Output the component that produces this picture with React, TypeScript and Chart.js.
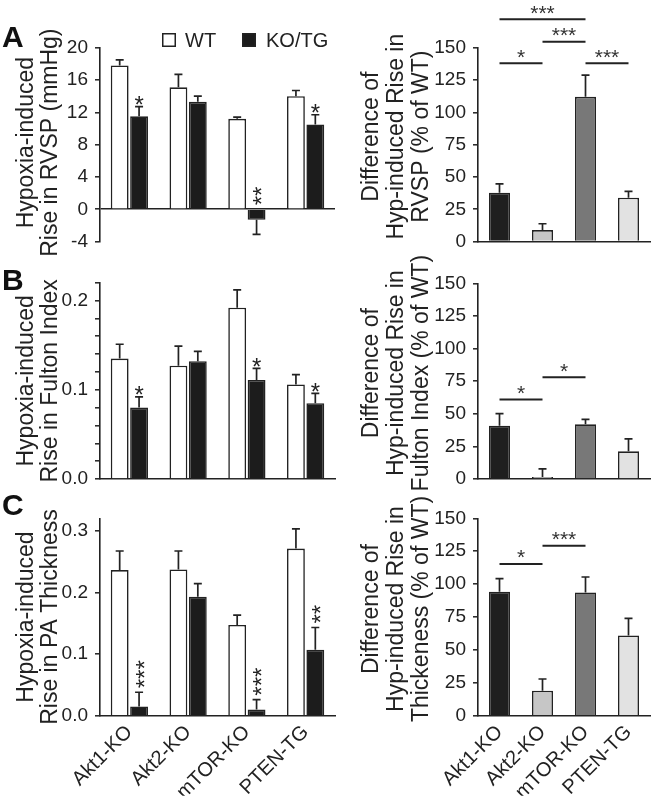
import React, { useEffect, useRef } from 'react';
import { Chart, registerables } from 'chart.js';

Chart.register(...registerables);

const FONT = '"Liberation Sans", Arial, Helvetica, sans-serif';
const INK = '#222222';
Chart.defaults.font.family = FONT;

// ---------- data ----------
const groups = ['Akt1-KO', 'Akt2-KO', 'mTOR-KO', 'PTEN-TG'];
const seriesLabels = ['WT', 'KO/TG'];

// A (left): hypoxia-induced rise in RVSP (mmHg)
const rvspWT = [17.8, 15.1, 11.2, 14.0];
const rvspWTSem = [0.7, 1.6, 0.2, 0.7];
const rvspKO = [11.5, 13.3, -1.3, 10.5];
const rvspKOSem = [1.2, 0.7, 1.8, 1.2];
const rvspKOStars = ['*', '', '**', '*'];

// B (left): hypoxia-induced rise in Fulton index
const fultonWT = [0.135, 0.127, 0.192, 0.106];
const fultonWTSem = [0.016, 0.022, 0.02, 0.011];
const fultonKO = [0.08, 0.132, 0.111, 0.085];
const fultonKOSem = [0.012, 0.011, 0.013, 0.011];
const fultonKOStars = ['*', '', '*', '*'];

// C (left): hypoxia-induced rise in PA thickness
const thickWT = [0.236, 0.237, 0.147, 0.271];
const thickWTSem = [0.031, 0.03, 0.016, 0.032];
const thickKO = [0.015, 0.193, 0.01, 0.107];
const thickKOSem = [0.023, 0.021, 0.016, 0.036];
const thickKOStars = ['***', '', '***', '**'];

// right panels: difference of hyp-induced rise (% of WT)
const rvspDiff = [37.8, 8.9, 112.0, 34.0];
const rvspDiffSem = [6.9, 4.9, 16.8, 4.8];
const rvspSigPairs = [[0, 2], [1, 2], [0, 1], [2, 3]];
const rvspSigLevels = [172, 154.6, 138, 138];
const rvspSigLabels = ['***', '***', '*', '***'];

const fultonDiff = [40.9, 1.5, 41.9, 21.2];
const fultonDiffSem = [9.2, 6.2, 3.8, 9.5];
const fultonSigPairs = [[0, 1], [1, 2]];
const fultonSigLevels = [61, 78];
const fultonSigLabels = ['*', '*'];

const thickDiff = [94.2, 19.0, 93.7, 61.0];
const thickDiffSem = [9.9, 8.9, 11.7, 13.0];
const thickSigPairs = [[0, 1], [1, 2]];
const thickSigLevels = [115.3, 129.2];
const thickSigLabels = ['*', '***'];

// axis ranges
const rvspAxis = { min: -4, max: 20, step: 4 };
const fultonAxis = { min: 0, max: 0.22, step: 0.02 };
const thickAxis = { min: 0, max: 0.32, step: 0.1 };
const diffAxis = { min: 0, max: 150, step: 25 };

const diffColors = ['#1f1f1f', '#c6c6c6', '#787878', '#e2e2e2'];

// ---------- plugin ----------
const annotPlugin = {
  id: 'annot',
  afterDatasetsDraw(chart: any, _a: any, opts: any) {
    const ctx = chart.ctx;
    const ys = chart.scales.y;
    const xs = chart.scales.x;
    chart.data.datasets.forEach((ds: any, i: number) => {
      const meta = chart.getDatasetMeta(i);
      meta.data.forEach((el: any, j: number) => {
        const v = ds.data[j];
        const e = ds.sem ? ds.sem[j] : 0;
        const end = v >= 0 ? v + e : v - e;
        const py = ys.getPixelForValue(end);
        const px = el.x;
        ctx.save();
        ctx.strokeStyle = INK;
        ctx.lineWidth = 1.7;
        ctx.beginPath();
        ctx.moveTo(px, el.y);
        ctx.lineTo(px, py);
        ctx.moveTo(px - 4, py);
        ctx.lineTo(px + 4, py);
        ctx.stroke();
        const s = ds.stars ? ds.stars[j] : '';
        if (s) {
          const anchor = ys.getPixelForValue(Math.max(0, end));
          const fs = 24;
          ctx.fillStyle = INK;
          ctx.font = `${fs}px ${FONT}`;
          ctx.textBaseline = 'alphabetic';
          if (s.length === 1) {
            ctx.textAlign = 'center';
            ctx.fillText(s, px, anchor - 4 + 0.43 * fs);
          } else {
            ctx.translate(px, anchor - 4);
            ctx.rotate(-Math.PI / 2);
            ctx.textAlign = 'left';
            ctx.fillText(s, 0, 0.58 * fs);
          }
        }
        ctx.restore();
      });
    });
    if (opts.sig) {
      const { pairs, levels, labels } = opts.sig;
      pairs.forEach((pr: number[], k: number) => {
        const x1 = xs.getPixelForValue(pr[0]);
        const x2 = xs.getPixelForValue(pr[1]);
        const py = ys.getPixelForValue(levels[k]);
        ctx.save();
        ctx.strokeStyle = INK;
        ctx.lineWidth = 2;
        ctx.beginPath();
        ctx.moveTo(x1, py);
        ctx.lineTo(x2, py);
        ctx.stroke();
        ctx.fillStyle = '#333';
        ctx.font = `21px ${FONT}`;
        ctx.textAlign = 'center';
        ctx.textBaseline = 'alphabetic';
        ctx.fillText(labels[k], (x1 + x2) / 2, py + 0.5);
        ctx.restore();
      });
    }
  },
  afterDraw(chart: any, _a: any, opts: any) {
    const ctx = chart.ctx;
    const ca = chart.chartArea;
    if (opts.title) {
      const cy = (ca.top + ca.bottom) / 2 + opts.title.dy;
      opts.title.lines.forEach((ln: string, k: number) => {
        ctx.save();
        ctx.translate(opts.title.xs[k], cy);
        ctx.rotate(-Math.PI / 2);
        ctx.fillStyle = INK;
        ctx.font = `23px ${FONT}`;
        ctx.textAlign = 'center';
        ctx.textBaseline = 'middle';
        ctx.fillText(ln, 0, 0);
        ctx.restore();
      });
    }
    if (opts.letter) {
      ctx.save();
      ctx.fillStyle = '#111';
      ctx.font = `bold 30px ${FONT}`;
      ctx.textAlign = 'left';
      ctx.textBaseline = 'alphabetic';
      ctx.fillText(opts.letter.text, opts.letter.x, opts.letter.y);
      ctx.restore();
    }
    if (opts.legend) {
      const L = opts.legend;
      chart.data.datasets.forEach((ds: any, i: number) => {
        const bx = L.boxX[i];
        const by = L.boxY;
        ctx.save();
        ctx.fillStyle = ds.backgroundColor;
        ctx.fillRect(bx, by, 14, 14);
        ctx.strokeStyle = INK;
        ctx.lineWidth = 1.5;
        ctx.strokeRect(bx + 0.75, by + 0.75, 12.5, 12.5);
        ctx.fillStyle = INK;
        ctx.font = `20px ${FONT}`;
        ctx.textAlign = 'left';
        ctx.textBaseline = 'alphabetic';
        ctx.fillText(ds.label, L.textX[i], by + 14);
        ctx.restore();
      });
    }
  },
};

// ---------- panels ----------
type Spec = any;

const barStyle = { borderColor: INK, borderWidth: 1.6 };

const panels: Spec[] = [
  {
    left: 0, top: 0, width: 340, height: 260,
    area: { left: 100, top: 47.7, right: 335, bottom: 243.3 }, xHeight: 0,
    kind: 'pair', wt: rvspWT, wtSem: rvspWTSem, ko: rvspKO, koSem: rvspKOSem, stars: rvspKOStars,
    axis: rvspAxis, fmt: (v: number) => String(v), zeroLine: true, xLabels: false,
    title: { lines: ['Hypoxia-induced', 'Rise in RVSP (mmHg)'], xs: [27, 51], dy: -2 },
    letter: { text: 'A', x: 2, y: 47 },
    legend: { boxX: [162, 242], boxY: 33, textX: [185, 266] },
  },
  {
    left: 340, top: 0, width: 312, height: 260,
    area: { left: 138, top: 47.7, right: 310, bottom: 243.3 }, xHeight: 0,
    kind: 'diff', values: rvspDiff, sem: rvspDiffSem,
    sig: { pairs: rvspSigPairs, levels: rvspSigLevels, labels: rvspSigLabels },
    axis: diffAxis, fmt: (v: number) => String(v), xLabels: false,
    title: { lines: ['Difference of', 'Hyp-induced Rise in', 'RVSP (% of WT)'], xs: [32, 57, 82], dy: -8 },
  },
  {
    left: 0, top: 255, width: 340, height: 245,
    area: { left: 100, top: 27.7, right: 335, bottom: 224 }, xHeight: 0,
    kind: 'pair', wt: fultonWT, wtSem: fultonWTSem, ko: fultonKO, koSem: fultonKOSem, stars: fultonKOStars,
    axis: fultonAxis,
    fmt: (v: number) => (Math.abs(v * 10 - Math.round(v * 10)) < 1e-6 ? v.toFixed(1) : ''),
    xLabels: false,
    title: { lines: ['Hypoxia-induced', 'Rise in Fulton Index'], xs: [27, 51], dy: 0 },
    letter: { text: 'B', x: 2, y: 35 },
  },
  {
    left: 340, top: 255, width: 312, height: 245,
    area: { left: 138, top: 28.3, right: 310, bottom: 224 }, xHeight: 0,
    kind: 'diff', values: fultonDiff, sem: fultonDiffSem,
    sig: { pairs: fultonSigPairs, levels: fultonSigLevels, labels: fultonSigLabels },
    axis: diffAxis, fmt: (v: number) => String(v), xLabels: false,
    title: { lines: ['Difference of', 'Hyp-induced Rise in', 'Fulton Index (% of WT)'], xs: [32, 57, 82], dy: -8 },
  },
  {
    left: 0, top: 490, width: 340, height: 311,
    area: { left: 100, top: 28.3, right: 335, bottom: 225.7 }, xHeight: 80,
    kind: 'pair', wt: thickWT, wtSem: thickWTSem, ko: thickKO, koSem: thickKOSem, stars: thickKOStars,
    axis: thickAxis, fmt: (v: number) => v.toFixed(1), xLabels: true,
    title: { lines: ['Hypoxia-induced', 'Rise in PA Thickness'], xs: [27, 51], dy: 0 },
    letter: { text: 'C', x: 2, y: 25 },
  },
  {
    left: 340, top: 490, width: 312, height: 311,
    area: { left: 138, top: 28.3, right: 310, bottom: 225.7 }, xHeight: 80,
    kind: 'diff', values: thickDiff, sem: thickDiffSem,
    sig: { pairs: thickSigPairs, levels: thickSigLevels, labels: thickSigLabels },
    axis: diffAxis, fmt: (v: number) => String(v), xLabels: true,
    title: { lines: ['Difference of', 'Hyp-induced Rise in', 'Thickeness (% of WT)'], xs: [32, 57, 82], dy: -8 },
  },
];

function buildConfig(p: Spec): any {
  const datasets =
    p.kind === 'pair'
      ? [
          { label: seriesLabels[0], data: p.wt, sem: p.wtSem, backgroundColor: '#ffffff', ...barStyle, categoryPercentage: 0.66, barPercentage: 0.92 },
          { label: seriesLabels[1], data: p.ko, sem: p.koSem, stars: p.stars, backgroundColor: '#1c1c1c', ...barStyle, categoryPercentage: 0.66, barPercentage: 0.92 },
        ]
      : [
          { label: 'diff', data: p.values, sem: p.sem, backgroundColor: diffColors, ...barStyle, categoryPercentage: 1, barPercentage: 0.49 },
        ];
  const annot: any = { title: p.title };
  if (p.letter) annot.letter = p.letter;
  if (p.legend) annot.legend = p.legend;
  if (p.sig) annot.sig = p.sig;
  return {
    type: 'bar',
    data: { labels: groups, datasets },
    options: {
      animation: false,
      responsive: false,
      devicePixelRatio: 1,
      layout: {
        padding: {
          left: 0,
          top: p.area.top,
          right: p.width - p.area.right,
          bottom: p.height - p.area.bottom - p.xHeight,
        },
      },
      plugins: { legend: { display: false }, tooltip: { enabled: false }, annot },
      scales: {
        x: {
          type: 'category',
          grid: { display: false, drawTicks: false },
          border: { display: !p.zeroLine, color: INK, width: 1.6 },
          ticks: {
            display: p.xLabels,
            color: INK,
            font: { size: 20, family: FONT },
            minRotation: 45,
            maxRotation: 45,
            autoSkip: false,
            padding: 5,
          },
          afterFit: (s: any) => {
            s.height = p.xHeight;
          },
        },
        y: {
          min: p.axis.min,
          max: p.axis.max,
          ticks: {
            stepSize: p.axis.step,
            autoSkip: false,
            includeBounds: false,
            color: INK,
            font: { size: 19, family: FONT },
            padding: 7,
            callback: (v: any) => p.fmt(Number(v)),
          },
          grid: {
            drawOnChartArea: !!p.zeroLine,
            color: (c: any) => (p.zeroLine && c.tick && c.tick.value === 0 ? INK : 'rgba(0,0,0,0)'),
            lineWidth: 1.6,
            tickColor: INK,
            tickWidth: 1.5,
            tickLength: 5,
          },
          border: { display: true, color: INK, width: 1.6 },
          afterFit: (s: any) => {
            s.width = p.area.left;
          },
        },
      },
    },
    plugins: [annotPlugin],
  };
}

function Panel({ spec }: { spec: Spec }) {
  const ref = useRef<HTMLCanvasElement>(null);
  useEffect(() => {
    const chart = new Chart(ref.current as HTMLCanvasElement, buildConfig(spec));
    return () => chart.destroy();
  }, [spec]);
  return (
    <canvas
      ref={ref}
      width={spec.width}
      height={spec.height}
      style={{ position: 'absolute', left: spec.left, top: spec.top, width: spec.width, height: spec.height }}
    />
  );
}

export default function App() {
  return (
    <div style={{ position: 'absolute', left: 0, top: 0, width: 652, height: 801, background: '#ffffff', overflow: 'hidden' }}>
      {panels.map((p, i) => (
        <Panel key={i} spec={p} />
      ))}
    </div>
  );
}
